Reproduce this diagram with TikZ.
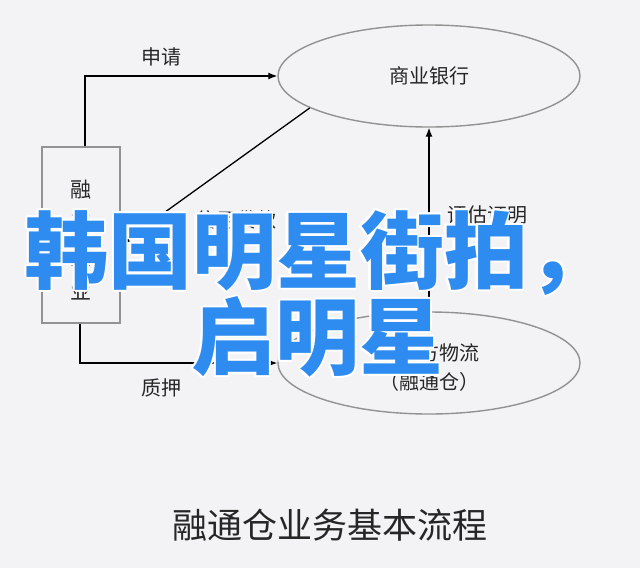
\documentclass[tikz,border=0pt]{standalone}
\usepackage{fontspec}
\newfontfamily\cjk{Noto Sans CJK SC}
\usetikzlibrary{shapes.geometric,arrows.meta}
\definecolor{bgc}{HTML}{F3F2F4}
\definecolor{edgegray}{HTML}{929292}
\definecolor{overblue}{HTML}{2E8CF0}
\tikzset{
  lab/.style={font=\cjk\fontsize{20}{24}\selectfont, inner sep=0pt, text=black!85},
  oval/.style={ellipse, draw=edgegray, line width=1.4pt, minimum width=302pt, minimum height=102pt, inner sep=0pt},
  arr/.style={draw=black, line width=1.3pt, -{Latex[length=9pt,width=7pt]}},
  over/.style={font=\cjk\bfseries\fontsize{84}{90}\selectfont, inner sep=0pt, anchor=center},
}
\newcommand{\haloed}[3]{%
  \foreach \dx/\dy in {-2/0,2/0,0/-2,0/2,-1.5/-1.5,1.5/1.5,-1.5/1.5,1.5/-1.5}{%
    \node[over, text=white] at ([xshift=\dx pt,yshift=\dy pt]#1) {#3};}
  \node[over, text=overblue] (#2) at (#1) {#3};}
\begin{document}
\begin{tikzpicture}[x=1pt,y=-1pt]
\fill[bgc] (0,0) rectangle (640,568);
\useasboundingbox (0,0) rectangle (640,568);
% nodes
\node[oval] (bank) at (429,76) {};
\node[lab] (banklab) at (bank.center) {商业银行};
\node[oval] (logi) at (429,363) {};
\node[lab, align=center, font=\cjk\fontsize{20}{29}\selectfont] (logilab) at (429,367) {第三方物流\\（融通仓）};
\node[draw=edgegray, line width=1.4pt, minimum width=78pt, minimum height=176pt, inner sep=0pt] (firm) at (81,235) {};
\node[align=center, font=\cjk\fontsize{21}{34}\selectfont, text=black!85, inner sep=0pt] (firmlab) at (81,240) {融\\资\\企\\业};
% connectors
\draw[arr] ([xshift=4pt]firm.north) |- (bank.west);
\draw[arr] ([xshift=-1pt]firm.south) |- (logi.west);
\draw[arr] (logi.north) -- (bank.south);
\draw[arr] (bank.195) -- ([yshift=-9pt]firm.east);
% labels
\node[lab] (l1) at (161,57) {申请};
\node[lab] (l2) at (236,220) {信用贷款};
\node[lab] (l3) at (487,215) {评估证明};
\node[lab] (l4) at (161,388) {质押};
\node[font=\cjk\fontsize{35}{40}\selectfont, inner sep=0pt, text=black!85] (title) at (330,525) {融通仓业务基本流程};
% overlay text
\coordinate (o1) at (318,253);
\coordinate (o2) at (317,337);
\haloed{o1}{ov1}{韩国明星街拍，}
\haloed{o2}{ov2}{启明星}
\end{tikzpicture}
\end{document}
